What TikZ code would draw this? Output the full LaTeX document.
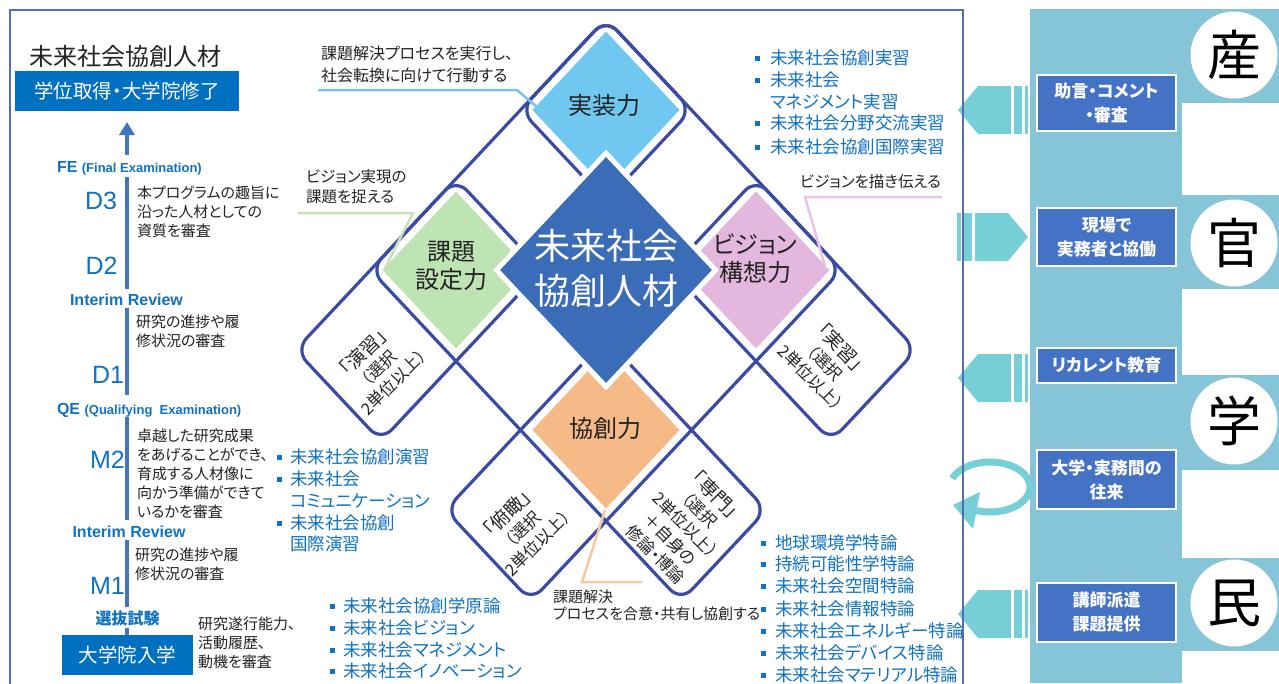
\documentclass[tikz,border=0pt]{standalone}
\usepackage{fontspec}
\setmainfont{Noto Sans CJK JP}[RawFeature=+palt]
\newfontfamily\latf{Liberation Sans}
\usetikzlibrary{calc,arrows.meta}
\definecolor{framec}{RGB}{84,110,176}
\definecolor{latc}{RGB}{58,76,162}
\definecolor{boxblue}{RGB}{0,112,192}
\definecolor{barc}{RGB}{68,114,196}
\definecolor{tblue}{RGB}{16,114,194}
\definecolor{txtc}{RGB}{35,35,35}
\definecolor{panelc}{RGB}{134,197,216}
\definecolor{arrowc}{RGB}{118,206,214}
\definecolor{rboxc}{RGB}{68,114,196}
\definecolor{centc}{RGB}{58,108,183}
\definecolor{jissoc}{RGB}{112,200,240}
\definecolor{kadaic}{RGB}{190,228,180}
\definecolor{visionc}{RGB}{228,184,222}
\definecolor{kyosoc}{RGB}{246,185,136}
\definecolor{callb}{RGB}{120,195,235}
\definecolor{callg}{RGB}{200,225,185}
\definecolor{callp}{RGB}{232,195,228}
\definecolor{callo}{RGB}{245,200,160}
\newcommand\cellfill[3]{\fill[#3] (#1-0.49,#2-0.49) -- (#1+0.49,#2-0.49) -- (#1+0.49,#2+0.49) -- (#1-0.49,#2+0.49) -- cycle;}
\newcommand\striprect[4]{\draw[latline] (#1,#3) -- (#2,#3) -- (#2,#4) -- (#1,#4) -- cycle;}
\begin{document}
\begin{tikzpicture}[x=1pt,y=-1pt,
  every node/.style={inner sep=0pt, outer sep=0pt},
  latline/.style={draw=latc, line width=3.2pt, rounded corners=16pt},
  body/.style={font=\fontsize{15}{19}\selectfont, text=txtc, align=left, anchor=west},
  bluelab/.style={font=\latf\bfseries\fontsize{16}{18}\selectfont, text=tblue},
  jplab/.style={font=\bfseries\fontsize{16}{18}\selectfont, text=tblue},
  dlab/.style={font=\latf\fontsize{25}{25}\selectfont, text=tblue},
  litem/.style={font=\fontsize{17.5}{22}\selectfont, text=tblue, anchor=west},
  bullet/.style={fill=tblue, minimum size=5pt, inner sep=0pt},
  rot/.style={font=\fontsize{16.5}{21}\selectfont, text=txtc, align=center},
  dtext/.style={font=\fontsize{24}{28}\selectfont, text=txtc, align=center},
  rbox/.style={fill=rboxc, draw=white, line width=1.5pt, text=white, font=\bfseries\fontsize{17}{24}\selectfont, align=center, minimum width=139pt},
  bbox/.style={fill=boxblue, text=white, font=\fontsize{19.5}{22}\selectfont},
  barline/.style={draw=barc, line width=4.5pt},
  call/.style={line width=2.5pt},
  kan/.style={circle, fill=white, minimum size=87pt, font=\fontsize{54}{54}\selectfont, text=black}
]
\useasboundingbox (0,0) rectangle (1279,683);
\fill[white] (0,0) rectangle (1279,683);

% ---------- right panel ----------
\fill[panelc] (1030,9) rectangle (1182,683);
\foreach \a/\b in {9/103,195/289,375/470,558/651} \fill[panelc] (1182,\a) rectangle (1279,\b);
\node[kan] (san) at (1234,55) {産};
\node[kan] (kanc) at (1234,243) {官};
\node[kan] (gaku) at (1234,421) {学};
\node[kan] (min) at (1234,603) {民};

\node[rbox, minimum height=56pt] (b1) at (1106.5,103) {助言・コメント\\・審査};
\node[rbox, minimum height=58pt] (b2) at (1106.5,237) {現場で\\実務者と協働};
\node[rbox, minimum height=35pt] (b3) at (1106.5,365.5) {リカレント教育};
\node[rbox, minimum height=59pt] (b4) at (1106.5,479.5) {大学・実務間の\\往来};
\node[rbox, minimum height=59pt] (b5) at (1106.5,612.5) {講師派遣\\課題提供};

% block arrows
\foreach \c in {110,378,614} {
  \fill[arrowc] (958,\c) -- (978,\c-24) -- (1011,\c-24) -- (1011,\c+24) -- (978,\c+24) -- cycle;
  \fill[arrowc] (1014,\c-24) rectangle (1022,\c+24);
  \fill[arrowc] (1025,\c-24) rectangle (1028,\c+24);
}
\fill[arrowc] (1028,237) -- (1008,213) -- (975,213) -- (975,261) -- (1008,261) -- cycle;
\fill[arrowc] (964,213) rectangle (972,261);
\fill[arrowc] (957,213) rectangle (961,261);
% circular arrow
\draw[arrowc, line width=7pt] plot[domain=160:-110, samples=80] ({990+40*cos(\x)}, {487-25*sin(\x)});
\fill[arrowc] (953,505) -- (980,492) -- (973,529) -- cycle;

% ---------- central lattice ----------
\begin{scope}[shift={(606,270)}, x={(75pt,80pt)}, y={(75pt,-80pt)}]
  \striprect{-2.57}{1.57}{-1.57}{-0.43}
  \striprect{0.43}{1.57}{-1.57}{2.57}
  \striprect{-2.57}{1.57}{0.43}{1.57}
  \striprect{-1.57}{-0.43}{-1.57}{2.57}
  \cellfill{1}{-1}{jissoc}
  \cellfill{-1}{-1}{kadaic}
  \cellfill{1}{1}{visionc}
  \cellfill{-1}{1}{kyosoc}
  \filldraw[fill=centc, draw=white, line width=5pt] (-0.73,-0.73) -- (0.73,-0.73) -- (0.73,0.73) -- (-0.73,0.73) -- cycle;
\end{scope}

\node[dtext] (jisso) at (604,105) {実装力};
\node[dtext] (kadai) at (451,266) {課題\\設定力};
\node[dtext] (vision) at (755,259) {ビジョン\\構想力};
\node[dtext] (kyoso) at (605,428) {協創力};
\node[align=center, text=white, font=\fontsize{36}{45}\selectfont] (core) at (606,268) {未来社会\\協創人材};

\node[rot, rotate=45] (enshu) at (378,367) {{\fontsize{19}{22}\selectfont 「演習」}\\（選択\\2単位以上）};
\node[rot, rotate=-45] (jisshu) at (826,362) {{\fontsize{19}{22}\selectfont 「実習」}\\（選択\\2単位以上）};
\node[rot, rotate=45] (fukan) at (522,528) {{\fontsize{19}{22}\selectfont 「俯瞰」}\\（選択\\2単位以上）};
\node[rot, rotate=-45] (senmon) at (686,524) {{\fontsize{19}{22}\selectfont 「専門」}\\（選択\\2単位以上）\\＋自身の\\修論・博論};

% callouts
\node[body, font=\fontsize{16}{22}\selectfont] (c1) at (321,64) {課題解決プロセスを実行し、\\社会転換に向けて行動する};
\node[body, font=\fontsize{15.5}{20}\selectfont] (c2) at (306,187) {ビジョン実現の\\課題を捉える};
\node[body, font=\fontsize{15.5}{19}\selectfont] (c3) at (800,182) {ビジョンを描き伝える};
\node[body, font=\fontsize{15}{17}\selectfont] (c4) at (553,605) {課題解決\\プロセスを合意・共有し協創する};
\coordinate (c1a) at (318,90); \coordinate (c1b) at (517,90); \coordinate (c1c) at (537,107);
\coordinate (c2a) at (298,213); \coordinate (c2b) at (413,213); \coordinate (c2c) at (385,268);
\coordinate (c3a) at (942,197); \coordinate (c3b) at (805,197); \coordinate (c3c) at (826,270);
\coordinate (c4a) at (605,510); \coordinate (c4b) at (582,582); \coordinate (c4c) at (642,582);
\draw[callb, call] (c1a) -- (c1b) -- (c1c);
\draw[callg, call] (c2a) -- (c2b) -- (c2c);
\draw[callp, call] (c3a) -- (c3b) -- (c3c);
\draw[callo, call] (c4a) -- (c4b) -- (c4c);

% lists
\node[bullet] (rb1) at (757.5,58) {}; \node[litem] (r1) at (770,58) {未来社会協創実習};
\node[bullet] (rb2) at (757.5,80) {}; \node[litem] (r2) at (770,80) {未来社会};
\node[litem] (r2b) at (770,102) {マネジメント実習};
\node[bullet] (rb3) at (757.5,123) {}; \node[litem] (r3) at (770,123) {未来社会分野交流実習};
\node[bullet] (rb4) at (757.5,147) {}; \node[litem] (r4) at (770,147) {未来社会協創国際実習};

\node[bullet] (mb1) at (279.5,457) {}; \node[litem] (m1) at (290,457) {未来社会協創演習};
\node[bullet] (mb2) at (279.5,479) {}; \node[litem] (m2) at (290,479) {未来社会};
\node[litem] (m2b) at (290,501) {コミュニケーション};
\node[bullet] (mb3) at (279.5,523) {}; \node[litem] (m3) at (290,523) {未来社会協創};
\node[litem] (m3b) at (290,544) {国際演習};

\node[bullet] (bb1) at (332,606) {}; \node[litem] (bl1) at (343,606) {未来社会協創学原論};
\node[bullet] (bb2) at (332,628) {}; \node[litem] (bl2) at (343,628) {未来社会ビジョン};
\node[bullet] (bb3) at (332,650) {}; \node[litem] (bl3) at (343,650) {未来社会マネジメント};
\node[bullet] (bb4) at (332,671) {}; \node[litem] (bl4) at (343,671) {未来社会イノベーション};

\node[bullet] (sb1) at (763,543) {}; \node[litem] (s1) at (775,543) {地球環境学特論};
\node[bullet] (sb2) at (763,564) {}; \node[litem] (s2) at (775,564) {持続可能性学特論};
\node[bullet] (sb3) at (763,586) {}; \node[litem] (s3) at (775,586) {未来社会空間特論};
\node[bullet] (sb4) at (763,609) {}; \node[litem] (s4) at (775,609) {未来社会情報特論};
\node[bullet] (sb5) at (763,631) {}; \node[litem] (s5) at (775,631) {未来社会エネルギー特論};
\node[bullet] (sb6) at (763,653) {}; \node[litem] (s6) at (775,653) {未来社会デバイス特論};
\node[bullet] (sb7) at (763,675) {}; \node[litem] (s7) at (775,675) {未来社会マテリアル特論};

% ---------- left column ----------
\coordinate (barx) at (127,0);
\node[anchor=west, text=txtc, font=\fontsize{24}{28}\selectfont] (title) at (29,56) {未来社会協創人材};
\node[bbox, minimum width=224pt, minimum height=40pt] (deg) at (127,91) {学位取得・大学院修了};
\node[bluelab, anchor=west] (fe) at (57,168) {{\fontsize{16}{18}\selectfont FE} {\fontsize{13}{18}\selectfont (Final Examination)}};
\node[bluelab] (ir1) at (126.5,300) {Interim Review};
\node[bluelab, anchor=west] (qe) at (57,410) {{\fontsize{16}{18}\selectfont QE} {\fontsize{13}{18}\selectfont (Qualifying\ \ Examination)}};
\node[bluelab] (ir2) at (129,532) {Interim Review};
\node[jplab] (sen) at (127.5,618) {選抜試験};
\node[bbox, minimum width=131pt, minimum height=40pt] (ent) at (127.5,655) {大学院入学};

\draw[barline, -{Triangle[length=13pt,width=15pt]}] ($(fe -| barx)+(0,-13)$) -- ($(deg.south -| barx)+(0,11)$);
\draw[barline] ($(fe -| barx)+(0,9)$) -- ($(ir1 -| barx)+(0,-11)$);
\draw[barline] ($(ir1 -| barx)+(0,8)$) -- ($(qe -| barx)+(0,-15)$);
\draw[barline] ($(qe -| barx)+(0,7)$) -- ($(ir2 -| barx)+(0,-12)$);
\draw[barline] ($(ir2 -| barx)+(0,8)$) -- ($(sen -| barx)+(0,-11)$);
\draw[barline] ($(sen -| barx)+(0,10)$) -- (ent.north -| barx);

\node[dlab] (d3) at (101,201) {D3};
\node[dlab] (d2) at (101.5,266) {D2};
\node[dlab] (d1) at (108,375) {D1};
\node[dlab] (m2l) at (107.5,460) {M2};
\node[dlab] (m1l) at (107.5,586) {M1};

\node[body] (t1) at (137,212) {本プログラムの趣旨に\\沿った人材としての\\資質を審査};
\node[body] (t2) at (136,331.5) {研究の進捗や履\\修状況の審査};
\node[body] (t3) at (137,473.5) {卓越した研究成果\\をあげることができ、\\育成する人材像に\\向かう準備ができて\\いるかを審査};
\node[body] (t4) at (135,564) {研究の進捗や履\\修状況の審査};
\node[body] (t5) at (198,643) {研究遂行能力、\\活動履歴、\\動機を審査};

% frame
\draw[framec, line width=1.5pt] (963,684) -- (963,10) -- (10,10) -- (10,684);
\end{tikzpicture}
\end{document}
